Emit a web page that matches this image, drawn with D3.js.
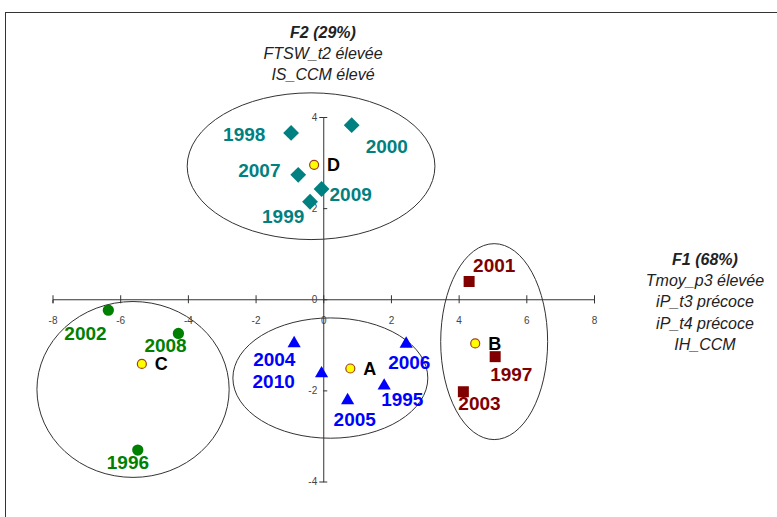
<!DOCTYPE html>
<html>
<head>
<meta charset="utf-8">
<script src="https://cdn.jsdelivr.net/npm/d3@7"></script>
<style>
  body { margin: 0; background: #fff; }
  svg { font-family: Arial, "Liberation Sans", sans-serif; }
</style>
</head>
<body>
<div id="chart"></div>
<script>
// years per group, F1 / F2 scores
const groupA = ['1995', '2004', '2005', '2006', '2010']
const groupA_f1 = [1.80, -0.86, 0.72, 2.45, -0.05]
const groupA_f2 = [-1.90, -0.97, -2.22, -0.98, -1.63]

const groupB = ['1997', '2001', '2003']
const groupB_f1 = [5.08, 4.31, 4.14]
const groupB_f2 = [-1.26, 0.39, -2.03]

const groupC = ['1996', '2002', '2008']
const groupC_f1 = [-5.48, -6.35, -4.28]
const groupC_f2 = [-3.31, -0.24, -0.75]

const groupD = ['1998', '1999', '2000', '2007', '2009']
const groupD_f1 = [-0.95, -0.39, 0.84, -0.74, -0.05]
const groupD_f2 = [3.65, 2.14, 3.82, 2.73, 2.42]

// group centres (yellow dots)
const centreNames = ['A', 'B', 'C', 'D']
const centre_f1 = [0.80, 4.49, -5.36, -0.27]
const centre_f2 = [-1.52, -0.97, -1.42, 2.95]

// enclosing ellipses in data units: centre f1, centre f2, radius f1, radius f2
const ellipse_cx = [0.21, 5.05, -5.62, -0.36]
const ellipse_cy = [-1.73, -0.93, -1.98, 2.92]
const ellipse_rx = [2.88, 1.58, 2.84, 3.66]
const ellipse_ry = [1.32, 2.15, 1.93, 1.61]

const xTicks = [-8, -6, -4, -2, 0, 2, 4, 6, 8]
const yTicks = [-4, -2, 0, 2, 4]

const f1Title = ['F1 (68%)', 'Tmoy_p3 élevée', 'iP_t3 précoce', 'iP_t4 précoce', 'IH_CCM']
const f2Title = ['F2 (29%)', 'FTSW_t2 élevée', 'IS_CCM élevé']

// label placement (pixels from the marker)
const labelShift = {
  '1998': [-68, 1], '2000': [14, 21], '2007': [-60, -5], '2009': [8, 5], '1999': [-48, 14],
  '2002': [-44, 23], '2008': [-34, 12], '1996': [-31, 12],
  '2004': [-41, 16], '2010': [-69, 8], '2006': [-18, 18], '1995': [-3, 13], '2005': [-14, 19],
  '2001': [4, -16], '1997': [-5, 18], '2003': [-5, 11]
}

const width = 777
const height = 517

const svg = d3.select('#chart')
  .append('svg')
  .attr('width', width)
  .attr('height', height)

const x = d3.scaleLinear().domain([-8, 8]).range([52.5, 594])
const y = d3.scaleLinear().domain([-4, 4]).range([481.5, 117])

// frame
svg.append('rect')
  .attr('x', 5.5).attr('y', 12.5)
  .attr('width', 900).attr('height', 700)
  .attr('fill', 'none')
  .attr('stroke', '#333')

// ellipses
svg.selectAll('.group-ellipse')
  .data(ellipse_cx)
  .enter()
  .append('ellipse')
  .attr('class', 'group-ellipse')
  .attr('cx', d => x(d))
  .attr('cy', (d, i) => y(ellipse_cy[i]))
  .attr('rx', (d, i) => x(ellipse_rx[i]) - x(0))
  .attr('ry', (d, i) => y(0) - y(ellipse_ry[i]))
  .attr('fill', 'none')
  .attr('stroke', '#333')
  .attr('stroke-width', 1)

// axes through the origin
const xAxis = svg.append('g')
  .attr('transform', 'translate(0,' + y(0) + ')')
  .call(d3.axisBottom(x).tickValues(xTicks).tickSize(4).tickFormat(d3.format('d')))
xAxis.select('.domain').attr('stroke', '#333')
xAxis.selectAll('.tick line').attr('y1', -4).attr('stroke', '#333')
xAxis.selectAll('.tick text')
  .attr('y', 18)
  .attr('font-size', 10)
  .attr('fill', '#444')
  .text(d => d < 0 ? '-' + Math.abs(d) : d)

const yAxis = svg.append('g')
  .attr('transform', 'translate(' + x(0) + ',0)')
  .call(d3.axisLeft(y).tickValues(yTicks).tickSize(4).tickFormat(d3.format('d')))
yAxis.select('.domain').attr('stroke', '#333')
yAxis.selectAll('.tick line').attr('x2', 4).attr('stroke', '#333')
yAxis.selectAll('.tick text')
  .attr('x', -6)
  .attr('font-size', 10)
  .attr('fill', '#444')
  .text(d => d < 0 ? '-' + Math.abs(d) : d)

// axis titles
svg.append('g').selectAll('text')
  .data(f2Title)
  .enter()
  .append('text')
  .attr('x', 323)
  .attr('y', (d, i) => 38 + i * 21)
  .attr('text-anchor', 'middle')
  .attr('font-size', 16)
  .attr('font-style', 'italic')
  .attr('font-weight', (d, i) => i === 0 ? 'bold' : 'normal')
  .attr('fill', '#222')
  .text(d => d)

svg.append('g').selectAll('text')
  .data(f1Title)
  .enter()
  .append('text')
  .attr('x', 705)
  .attr('y', (d, i) => 265 + i * 21.2)
  .attr('text-anchor', 'middle')
  .attr('font-size', 16)
  .attr('font-style', 'italic')
  .attr('font-weight', (d, i) => i === 0 ? 'bold' : 'normal')
  .attr('fill', '#222')
  .text(d => d)

function addGroup(years, f1, f2, colour, symbol, size, rotate) {
  const g = svg.append('g')
  const pts = years.map((yr, i) => ({ yr: yr, f1: f1[i], f2: f2[i] }))
  g.selectAll('path')
    .data(pts)
    .enter()
    .append('path')
    .attr('d', d3.symbol().type(symbol).size(size))
    .attr('transform', d => 'translate(' + x(d.f1) + ',' + y(d.f2) + ') rotate(' + rotate + ')')
    .attr('fill', colour)
  g.selectAll('text')
    .data(pts)
    .enter()
    .append('text')
    .attr('x', d => x(d.f1) + labelShift[d.yr][0])
    .attr('y', d => y(d.f2) + labelShift[d.yr][1])
    .attr('dy', '0.36em')
    .attr('font-size', 19)
    .attr('font-weight', 'bold')
    .attr('fill', colour)
    .text(d => d.yr)
}

addGroup(groupA, groupA_f1, groupA_f2, '#0000ff', d3.symbolTriangle, 75, 0)
addGroup(groupB, groupB_f1, groupB_f2, '#800000', d3.symbolSquare, 121, 0)
addGroup(groupC, groupC_f1, groupC_f2, '#008000', d3.symbolCircle, 100, 0)
addGroup(groupD, groupD_f1, groupD_f2, '#008080', d3.symbolSquare, 125, 45)

// centres
const centres = svg.append('g')
centres.selectAll('circle')
  .data(centreNames)
  .enter()
  .append('circle')
  .attr('cx', (d, i) => x(centre_f1[i]))
  .attr('cy', (d, i) => y(centre_f2[i]))
  .attr('r', 4.5)
  .attr('fill', '#ffff00')
  .attr('stroke', '#a0401a')
  .attr('stroke-width', 1.2)
centres.selectAll('text')
  .data(centreNames)
  .enter()
  .append('text')
  .attr('x', (d, i) => x(centre_f1[i]) + 13)
  .attr('y', (d, i) => y(centre_f2[i]))
  .attr('dy', '0.36em')
  .attr('font-size', 18)
  .attr('font-weight', 'bold')
  .attr('fill', '#000')
  .text(d => d)
</script>
</body>
</html>
